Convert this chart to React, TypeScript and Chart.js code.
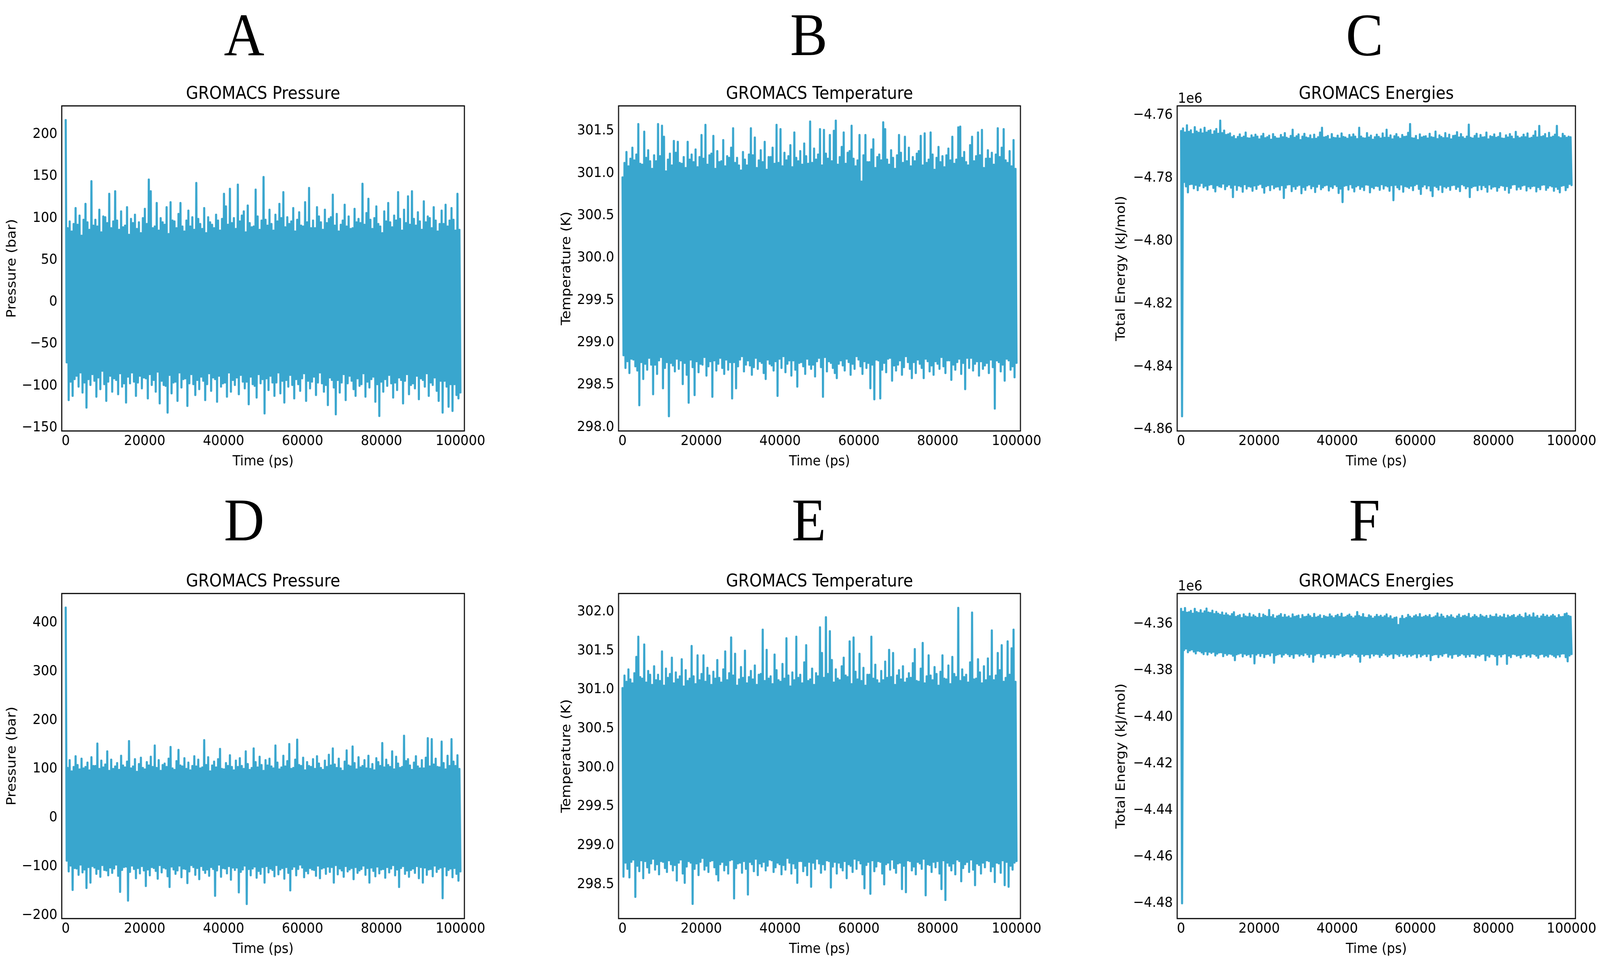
import { useEffect, useLayoutEffect, useRef, useState } from 'react';
import { Chart, registerables } from 'chart.js';

Chart.register(...registerables);

// ---- data ----
// Each trace is stored as the upper and lower excursions of the noisy signal,
// alternating in time (high, low, high, low ...) the way the raw samples zig-zag.

const RUN_LENGTH_PS = 100000;
const timeTicks = [0, 20000, 40000, 60000, 80000, 100000];

// A: pressure, run 1 (bar)
const pressureHighsA = [
  217, 88, 96, 84, 93, 112, 92, 103, 79, 98,
  117, 95, 86, 144, 91, 98, 90, 110, 83, 102,
  101, 94, 129, 88, 96, 132, 97, 86, 108, 89,
  91, 113, 80, 99, 94, 104, 87, 95, 82, 100,
  111, 93, 146, 132, 88, 90, 118, 85, 100, 95,
  92, 113, 81, 119, 97, 96, 88, 105, 118, 90,
  84, 97, 109, 90, 101, 86, 142, 99, 93, 87,
  112, 82, 101, 95, 92, 88, 104, 97, 85, 99,
  129, 114, 92, 135, 94, 100, 87, 140, 96, 103,
  108, 83, 115, 94, 89, 90, 134, 102, 86, 97,
  149, 98, 91, 110, 93, 85, 104, 96, 117, 100,
  131, 89, 101, 93, 96, 112, 84, 98, 107, 91,
  90, 119, 95, 136, 88, 97, 88, 113, 102, 95,
  86, 110, 94, 99, 101, 128, 91, 105, 84, 92,
  97, 116, 90, 102, 87, 88, 111, 95, 99, 94,
  141, 92, 106, 123, 98, 87, 100, 114, 93, 90,
  82, 108, 96, 118, 95, 89, 103, 97, 131, 99,
  85, 110, 94, 126, 92, 132, 99, 91, 107, 96,
  86, 120, 95, 102, 100, 88, 113, 97, 84, 93,
  109, 93, 116, 90, 97, 112, 98, 85, 129, 86,
];
const pressureLowsA = [
  -72, -117, -95, -112, -92, -88, -101, -84, -108, -96,
  -126, -92, -99, -86, -94, -113, -90, -104, -82, -98,
  -118, -95, -88, -107, -91, -93, -110, -85, -101, -97,
  -120, -89, -97, -84, -95, -112, -96, -88, -103, -90,
  -91, -115, -86, -99, -93, -107, -83, -121, -94, -99,
  -100, -132, -87, -109, -96, -95, -118, -84, -102, -92,
  -91, -124, -97, -86, -98, -111, -93, -104, -89, -94,
  -117, -98, -85, -106, -90, -92, -119, -88, -101, -97,
  -96, -113, -84, -107, -93, -99, -90, -110, -87, -95,
  -103, -95, -122, -89, -98, -100, -114, -86, -97, -92,
  -133, -91, -105, -88, -96, -112, -96, -84, -109, -94,
  -120, -93, -101, -87, -99, -115, -92, -98, -106, -91,
  -85, -118, -94, -103, -95, -89, -111, -96, -84, -97,
  -107, -99, -123, -90, -93, -102, -134, -93, -108, -96,
  -86, -117, -97, -88, -94, -104, -112, -91, -100, -98,
  -85, -113, -95, -102, -92, -89, -119, -98, -136, -95,
  -107, -92, -100, -87, -97, -114, -96, -105, -90, -93,
  -121, -94, -86, -110, -99, -97, -103, -88, -116, -91,
  -93, -101, -85, -112, -96, -99, -90, -106, -118, -94,
  -132, -94, -101, -125, -98, -130, -98, -111, -115, -108,
];

// B: temperature, run 1 (K)
const temperatureHighsB = [
  300.95, 301.12, 301.25, 301.08, 301.17, 301.30, 301.15, 301.22, 301.58, 301.11,
  301.10, 301.49, 301.18, 301.27, 301.14, 301.05, 301.21, 301.14, 301.58, 301.20,
  301.56, 301.43, 301.02, 301.16, 301.23, 301.09, 301.38, 301.24, 301.37, 301.12,
  301.11, 301.19, 301.06, 301.37, 301.16, 301.22, 301.13, 301.28, 301.07, 301.19,
  301.45, 301.17, 301.57, 301.10, 301.21, 301.23, 301.44, 301.05, 301.26, 301.13,
  301.14, 301.39, 301.08, 301.20, 301.18, 301.30, 301.53, 301.12, 301.18, 301.09,
  301.03, 301.25, 301.16, 301.09, 301.22, 301.53, 301.21, 301.42, 301.06, 301.15,
  301.27, 301.13, 301.37, 301.04, 301.19, 301.19, 301.30, 301.11, 301.57, 301.12,
  301.52, 301.08, 301.24, 301.15, 301.20, 301.33, 301.07, 301.48, 301.18, 301.14,
  301.26, 301.10, 301.35, 301.20, 301.11, 301.61, 301.12, 301.29, 301.16, 301.22,
  301.52, 301.09, 301.51, 301.23, 301.17, 301.45, 301.14, 301.50, 301.62, 301.10,
  301.19, 301.31, 301.48, 301.11, 301.24, 301.26, 301.56, 301.17, 301.08, 301.15,
  301.45, 300.90, 301.21, 301.45, 301.13, 301.13, 301.28, 301.40, 301.06, 301.19,
  301.22, 301.15, 301.60, 301.52, 301.16, 301.10, 301.27, 301.18, 301.05, 301.21,
  301.45, 301.24, 301.12, 301.43, 301.14, 301.30, 301.08, 301.19, 301.14, 301.23,
  301.26, 301.44, 301.09, 301.47, 301.12, 301.16, 301.48, 301.22, 301.04, 301.18,
  301.31, 301.13, 301.20, 301.07, 301.21, 301.29, 301.15, 301.43, 301.11, 301.16,
  301.54, 301.55, 301.18, 301.25, 301.13, 301.09, 301.33, 301.43, 301.14, 301.20,
  301.48, 301.21, 301.51, 301.06, 301.17, 301.27, 301.17, 301.24, 301.10, 301.22,
  301.53, 301.19, 301.30, 301.52, 301.15, 301.12, 301.26, 301.08, 301.39, 301.05,
];
const temperatureLowsB = [
  298.85, 298.70, 298.78, 298.64, 298.81, 298.80, 298.72, 298.67, 298.26, 298.77,
  298.57, 298.75, 298.68, 298.82, 298.74, 298.39, 298.74, 298.63, 298.79, 298.83,
  298.46, 298.70, 298.77, 298.13, 298.76, 298.73, 298.66, 298.81, 298.69, 298.79,
  298.51, 298.76, 298.62, 298.29, 298.80, 298.71, 298.38, 298.78, 298.65, 298.75,
  298.74, 298.83, 298.61, 298.72, 298.78, 298.36, 298.79, 298.67, 298.75, 298.82,
  298.70, 298.63, 298.80, 298.68, 298.77, 298.34, 298.77, 298.46, 298.72, 298.80,
  298.84, 298.66, 298.74, 298.79, 298.73, 298.62, 298.71, 298.82, 298.69, 298.78,
  298.76, 298.64, 298.57, 298.80, 298.75, 298.73, 298.67, 298.78, 298.37, 298.81,
  298.70, 298.84, 298.65, 298.75, 298.79, 298.61, 298.79, 298.68, 298.48, 298.76,
  298.77, 298.72, 298.63, 298.81, 298.74, 298.69, 298.74, 298.60, 298.78, 298.82,
  298.71, 298.36, 298.83, 298.66, 298.78, 298.76, 298.70, 298.64, 298.58, 298.75,
  298.79, 298.73, 298.67, 298.81, 298.77, 298.62, 298.75, 298.69, 298.84, 298.80,
  298.72, 298.63, 298.78, 298.70, 298.76, 298.46, 298.74, 298.33, 298.80, 298.79,
  298.34, 298.68, 298.76, 298.65, 298.81, 298.82, 298.55, 298.73, 298.67, 298.74,
  298.79, 298.62, 298.71, 298.84, 298.77, 298.69, 298.58, 298.77, 298.64, 298.80,
  298.75, 298.70, 298.58, 298.81, 298.78, 298.66, 298.73, 298.62, 298.78, 298.75,
  298.69, 298.83, 298.72, 298.64, 298.79, 298.79, 298.56, 298.74, 298.68, 298.77,
  298.81, 298.63, 298.76, 298.45, 298.82, 298.70, 298.82, 298.67, 298.75, 298.78,
  298.61, 298.78, 298.69, 298.73, 298.76, 298.64, 298.80, 298.71, 298.22, 298.79,
  298.77, 298.66, 298.74, 298.55, 298.81, 298.79, 298.68, 298.72, 298.59, 298.76,
];

// C: total energy, run 1 (units of 1e6 kJ/mol)
const energyHighsC = [
  -4.7650, -4.7642, -4.7655, -4.7632, -4.7653, -4.7648, -4.7660, -4.7638, -4.7652, -4.7656,
  -4.7645, -4.7658, -4.7640, -4.7655, -4.7650, -4.7648, -4.7662, -4.7651, -4.7644, -4.7659,
  -4.7617, -4.7657, -4.7649, -4.7663, -4.7661, -4.7658, -4.7670, -4.7666, -4.7676, -4.7669,
  -4.7661, -4.7672, -4.7668, -4.7655, -4.7673, -4.7674, -4.7664, -4.7671, -4.7662, -4.7668,
  -4.7677, -4.7667, -4.7659, -4.7673, -4.7670, -4.7665, -4.7678, -4.7660, -4.7669, -4.7674,
  -4.7674, -4.7663, -4.7670, -4.7657, -4.7672, -4.7675, -4.7666, -4.7646, -4.7672, -4.7667,
  -4.7661, -4.7679, -4.7668, -4.7659, -4.7671, -4.7673, -4.7664, -4.7676, -4.7662, -4.7675,
  -4.7670, -4.7655, -4.7640, -4.7671, -4.7669, -4.7666, -4.7677, -4.7660, -4.7672, -4.7673,
  -4.7665, -4.7674, -4.7658, -4.7669, -4.7671, -4.7675, -4.7663, -4.7670, -4.7661, -4.7668,
  -4.7676, -4.7640, -4.7668, -4.7673, -4.7674, -4.7657, -4.7671, -4.7665, -4.7678, -4.7670,
  -4.7662, -4.7669, -4.7674, -4.7658, -4.7672, -4.7646, -4.7672, -4.7664, -4.7677, -4.7667,
  -4.7660, -4.7670, -4.7675, -4.7663, -4.7669, -4.7668, -4.7656, -4.7628, -4.7673, -4.7674,
  -4.7666, -4.7679, -4.7661, -4.7671, -4.7668, -4.7667, -4.7674, -4.7659, -4.7670, -4.7672,
  -4.7652, -4.7676, -4.7664, -4.7669, -4.7673, -4.7657, -4.7673, -4.7662, -4.7677, -4.7666,
  -4.7665, -4.7654, -4.7671, -4.7660, -4.7670, -4.7675, -4.7668, -4.7630, -4.7672, -4.7674,
  -4.7666, -4.7659, -4.7674, -4.7663, -4.7671, -4.7670, -4.7655, -4.7677, -4.7667, -4.7669,
  -4.7661, -4.7672, -4.7669, -4.7657, -4.7674, -4.7675, -4.7664, -4.7671, -4.7660, -4.7668,
  -4.7676, -4.7653, -4.7668, -4.7673, -4.7670, -4.7662, -4.7670, -4.7658, -4.7674, -4.7672,
  -4.7665, -4.7651, -4.7671, -4.7634, -4.7669, -4.7667, -4.7660, -4.7673, -4.7656, -4.7671,
  -4.7668, -4.7662, -4.7634, -4.7670, -4.7673, -4.7659, -4.7666, -4.7672, -4.7668, -4.7670,
];
const energyLowsC = [
  -4.8558, -4.7812, -4.7826, -4.7845, -4.7819, -4.7818, -4.7832, -4.7821, -4.7838, -4.7824,
  -4.7815, -4.7829, -4.7824, -4.7836, -4.7821, -4.7819, -4.7831, -4.7842, -4.7822, -4.7826,
  -4.7828, -4.7817, -4.7835, -4.7825, -4.7820, -4.7830, -4.7860, -4.7821, -4.7837, -4.7823,
  -4.7826, -4.7843, -4.7819, -4.7833, -4.7825, -4.7827, -4.7840, -4.7823, -4.7834, -4.7821,
  -4.7818, -4.7829, -4.7846, -4.7825, -4.7822, -4.7838, -4.7820, -4.7832, -4.7827, -4.7826,
  -4.7836, -4.7822, -4.7863, -4.7830, -4.7820, -4.7819, -4.7841, -4.7826, -4.7834, -4.7824,
  -4.7821, -4.7848, -4.7828, -4.7837, -4.7823, -4.7820, -4.7832, -4.7825, -4.7844, -4.7827,
  -4.7818, -4.7835, -4.7829, -4.7823, -4.7821, -4.7839, -4.7826, -4.7831, -4.7820, -4.7825,
  -4.7847, -4.7833, -4.7876, -4.7824, -4.7822, -4.7836, -4.7819, -4.7830, -4.7842, -4.7826,
  -4.7822, -4.7834, -4.7827, -4.7838, -4.7820, -4.7821, -4.7845, -4.7828, -4.7832, -4.7824,
  -4.7825, -4.7837, -4.7819, -4.7833, -4.7823, -4.7826, -4.7840, -4.7822, -4.7870, -4.7821,
  -4.7829, -4.7835, -4.7820, -4.7843, -4.7825, -4.7827, -4.7831, -4.7824, -4.7838, -4.7822,
  -4.7818, -4.7834, -4.7850, -4.7826, -4.7820, -4.7832, -4.7823, -4.7839, -4.7857, -4.7824,
  -4.7828, -4.7836, -4.7821, -4.7844, -4.7826, -4.7830, -4.7825, -4.7837, -4.7822, -4.7821,
  -4.7834, -4.7827, -4.7841, -4.7819, -4.7823, -4.7832, -4.7826, -4.7860, -4.7829, -4.7825,
  -4.7824, -4.7838, -4.7821, -4.7835, -4.7822, -4.7828, -4.7843, -4.7820, -4.7833, -4.7827,
  -4.7826, -4.7840, -4.7829, -4.7822, -4.7824, -4.7837, -4.7825, -4.7846, -4.7831, -4.7820,
  -4.7819, -4.7836, -4.7827, -4.7834, -4.7823, -4.7821, -4.7839, -4.7826, -4.7832, -4.7825,
  -4.7824, -4.7842, -4.7828, -4.7835, -4.7821, -4.7820, -4.7837, -4.7830, -4.7823, -4.7826,
  -4.7840, -4.7827, -4.7834, -4.7845, -4.7824, -4.7822, -4.7838, -4.7829, -4.7818, -4.7822,
];

// D: pressure, run 2 (bar)
const pressureHighsD = [
  431, 102, 118, 95, 104, 126, 108, 99, 121, 101,
  104, 113, 97, 124, 106, 106, 152, 100, 117, 103,
  109, 136, 96, 119, 100, 105, 112, 98, 127, 107,
  103, 115, 157, 101, 105, 120, 94, 110, 123, 102,
  99, 114, 107, 125, 104, 148, 102, 118, 96, 108,
  111, 104, 121, 145, 101, 98, 116, 139, 107, 105,
  122, 100, 113, 97, 106, 126, 105, 119, 101, 103,
  159, 108, 124, 95, 107, 115, 103, 120, 141, 100,
  99, 112, 106, 128, 104, 97, 117, 104, 122, 106,
  100, 136, 110, 98, 102, 142, 114, 103, 125, 108,
  96, 118, 107, 121, 105, 101, 148, 113, 99, 103,
  127, 105, 116, 151, 100, 102, 119, 160, 108, 106,
  123, 97, 114, 106, 104, 120, 100, 126, 111, 102,
  98, 117, 104, 129, 107, 142, 109, 102, 121, 101,
  96, 115, 138, 107, 105, 146, 112, 99, 124, 103,
  106, 118, 101, 127, 100, 110, 97, 122, 114, 106,
  153, 103, 119, 108, 104, 136, 99, 125, 111, 102,
  104, 168, 116, 120, 107, 98, 113, 126, 105, 101,
  118, 101, 123, 163, 105, 161, 109, 121, 104, 103,
  156, 112, 99, 127, 106, 161, 115, 106, 128, 100,
];
const pressureLowsD = [
  -88, -110, -98, -148, -103, -104, -117, -96, -112, -106,
  -144, -101, -133, -99, -102, -115, -105, -121, -97, -107,
  -108, -118, -102, -113, -104, -96, -119, -152, -107, -101,
  -100, -170, -111, -98, -105, -124, -103, -114, -99, -108,
  -140, -106, -118, -101, -103, -109, -125, -97, -112, -102,
  -104, -120, -142, -100, -106, -115, -108, -98, -122, -104,
  -105, -134, -110, -97, -101, -117, -103, -126, -99, -107,
  -113, -106, -119, -101, -105, -160, -108, -96, -121, -103,
  -104, -114, -99, -127, -102, -107, -102, -153, -111, -106,
  -98, -177, -105, -118, -104, -100, -123, -109, -115, -101,
  -133, -99, -112, -104, -107, -120, -97, -116, -106, -103,
  -125, -101, -113, -149, -105, -100, -118, -105, -96, -102,
  -122, -109, -114, -103, -106, -107, -119, -98, -124, -104,
  -102, -115, -100, -111, -101, -133, -97, -116, -104, -108,
  -121, -99, -110, -106, -103, -126, -101, -113, -108, -105,
  -98, -117, -103, -133, -102, -109, -120, -100, -114, -106,
  -105, -123, -101, -112, -104, -97, -118, -106, -142, -103,
  -99, -115, -108, -121, -107, -104, -113, -99, -124, -101,
  -133, -102, -117, -106, -105, -120, -98, -111, -105, -102,
  -165, -100, -118, -107, -104, -122, -103, -115, -129, -110,
];

// E: temperature, run 2 (K)
const temperatureHighsE = [
  301.02, 301.18, 301.10, 301.26, 301.13, 301.08, 301.21, 301.42, 301.68, 301.16,
  301.14, 301.58, 301.09, 301.24, 301.19, 301.06, 301.30, 301.12, 301.19, 301.11,
  301.49, 301.05, 301.27, 301.15, 301.20, 301.41, 301.08, 301.22, 301.13, 301.17,
  301.39, 301.04, 301.25, 301.11, 301.14, 301.56, 301.17, 301.07, 301.44, 301.12,
  301.20, 301.44, 301.10, 301.28, 301.18, 301.06, 301.23, 301.14, 301.38, 301.15,
  301.09, 301.26, 301.49, 301.12, 301.21, 301.67, 301.18, 301.46, 301.05, 301.13,
  301.29, 301.15, 301.50, 301.08, 301.16, 301.24, 301.13, 301.31, 301.06, 301.19,
  301.20, 301.77, 301.11, 301.51, 301.14, 301.17, 301.07, 301.45, 301.25, 301.12,
  301.10, 301.33, 301.14, 301.66, 301.18, 301.04, 301.22, 301.12, 301.68, 301.15,
  301.19, 301.08, 301.35, 301.57, 301.11, 301.13, 301.27, 301.06, 301.21, 301.17,
  301.80, 301.47, 301.15, 301.93, 301.20, 301.75, 301.38, 301.09, 301.26, 301.14,
  301.12, 301.30, 301.41, 301.18, 301.16, 301.62, 301.07, 301.67, 301.23, 301.13,
  301.46, 301.11, 301.28, 301.05, 301.19, 301.19, 301.68, 301.14, 301.32, 301.12,
  301.08, 301.24, 301.12, 301.36, 301.15, 301.51, 301.16, 301.47, 301.06, 301.18,
  301.25, 301.13, 301.30, 301.09, 301.14, 301.21, 301.15, 301.34, 301.52, 301.11,
  301.10, 301.27, 301.60, 301.08, 301.17, 301.44, 301.18, 301.12, 301.29, 301.20,
  301.05, 301.23, 301.44, 301.14, 301.13, 301.31, 301.07, 301.42, 301.20, 301.16,
  302.05, 301.11, 301.26, 301.16, 301.19, 301.09, 301.35, 301.99, 301.13, 301.14,
  301.39, 301.22, 301.08, 301.30, 301.12, 301.40, 301.17, 301.76, 301.12, 301.18,
  301.47, 301.25, 301.57, 301.10, 301.15, 301.62, 301.19, 301.53, 301.77, 301.10,
];
const temperatureLowsE = [
  298.60, 298.78, 298.70, 298.59, 298.79, 298.82, 298.34, 298.74, 298.67, 298.81,
  298.58, 298.80, 298.72, 298.65, 298.77, 298.83, 298.69, 298.76, 298.63, 298.80,
  298.79, 298.71, 298.66, 298.81, 298.76, 298.68, 298.75, 298.55, 298.78, 298.82,
  298.64, 298.52, 298.73, 298.80, 298.78, 298.25, 298.70, 298.77, 298.62, 298.79,
  298.84, 298.69, 298.74, 298.66, 298.80, 298.81, 298.72, 298.63, 298.55, 298.76,
  298.79, 298.68, 298.75, 298.64, 298.81, 298.82, 298.32, 298.71, 298.77, 298.78,
  298.65, 298.80, 298.70, 298.37, 298.79, 298.76, 298.67, 298.83, 298.62, 298.77,
  298.73, 298.79, 298.68, 298.74, 298.82, 298.81, 298.66, 298.72, 298.78, 298.76,
  298.63, 298.75, 298.69, 298.84, 298.78, 298.64, 298.77, 298.71, 298.52, 298.80,
  298.80, 298.67, 298.74, 298.62, 298.79, 298.47, 298.78, 298.70, 298.83, 298.77,
  298.65, 298.76, 298.69, 298.81, 298.80, 298.46, 298.73, 298.79, 298.64, 298.78,
  298.72, 298.68, 298.80, 298.58, 298.76, 298.74, 298.66, 298.83, 298.70, 298.81,
  298.77, 298.63, 298.45, 298.75, 298.79, 298.38, 298.81, 298.67, 298.73, 298.80,
  298.79, 298.64, 298.50, 298.76, 298.78, 298.69, 298.82, 298.71, 298.65, 298.77,
  298.78, 298.44, 298.74, 298.40, 298.81, 298.80, 298.68, 298.73, 298.63, 298.79,
  298.77, 298.70, 298.83, 298.36, 298.76, 298.75, 298.66, 298.79, 298.72, 298.80,
  298.64, 298.44, 298.81, 298.30, 298.78, 298.74, 298.68, 298.77, 298.63, 298.82,
  298.80, 298.54, 298.71, 298.76, 298.79, 298.66, 298.82, 298.69, 298.49, 298.77,
  298.75, 298.64, 298.78, 298.72, 298.81, 298.80, 298.67, 298.73, 298.53, 298.78,
  298.77, 298.65, 298.81, 298.49, 298.79, 298.47, 298.74, 298.69, 298.78, 298.80,
];

// F: total energy, run 2 (units of 1e6 kJ/mol)
const energyHighsF = [
  -4.3535, -4.3548, -4.3532, -4.3552, -4.3550, -4.3544, -4.3556, -4.3535, -4.3549, -4.3553,
  -4.3541, -4.3555, -4.3546, -4.3534, -4.3551, -4.3553, -4.3543, -4.3558, -4.3548, -4.3556,
  -4.3561, -4.3551, -4.3564, -4.3555, -4.3563, -4.3567, -4.3558, -4.3550, -4.3570, -4.3566,
  -4.3562, -4.3575, -4.3559, -4.3568, -4.3571, -4.3556, -4.3572, -4.3563, -4.3569, -4.3574,
  -4.3557, -4.3574, -4.3560, -4.3566, -4.3570, -4.3540, -4.3571, -4.3562, -4.3577, -4.3568,
  -4.3565, -4.3558, -4.3573, -4.3561, -4.3572, -4.3568, -4.3576, -4.3559, -4.3570, -4.3567,
  -4.3564, -4.3579, -4.3562, -4.3571, -4.3569, -4.3560, -4.3567, -4.3574, -4.3557, -4.3573,
  -4.3569, -4.3563, -4.3578, -4.3566, -4.3570, -4.3572, -4.3559, -4.3568, -4.3575, -4.3566,
  -4.3561, -4.3570, -4.3556, -4.3573, -4.3571, -4.3565, -4.3560, -4.3569, -4.3576, -4.3568,
  -4.3549, -4.3566, -4.3571, -4.3558, -4.3573, -4.3574, -4.3563, -4.3568, -4.3577, -4.3570,
  -4.3561, -4.3570, -4.3565, -4.3573, -4.3567, -4.3559, -4.3575, -4.3567, -4.3580, -4.3574,
  -4.3572, -4.3605, -4.3578, -4.3566, -4.3579, -4.3574, -4.3561, -4.3569, -4.3576, -4.3568,
  -4.3563, -4.3571, -4.3558, -4.3573, -4.3570, -4.3565, -4.3570, -4.3562, -4.3575, -4.3572,
  -4.3567, -4.3555, -4.3572, -4.3560, -4.3569, -4.3577, -4.3566, -4.3571, -4.3563, -4.3573,
  -4.3578, -4.3568, -4.3560, -4.3574, -4.3567, -4.3565, -4.3570, -4.3557, -4.3576, -4.3571,
  -4.3562, -4.3569, -4.3575, -4.3561, -4.3568, -4.3572, -4.3566, -4.3578, -4.3564, -4.3570,
  -4.3570, -4.3559, -4.3573, -4.3567, -4.3572, -4.3560, -4.3576, -4.3564, -4.3571, -4.3566,
  -4.3562, -4.3574, -4.3568, -4.3561, -4.3570, -4.3575, -4.3555, -4.3569, -4.3563, -4.3572,
  -4.3555, -4.3572, -4.3566, -4.3577, -4.3568, -4.3560, -4.3570, -4.3564, -4.3573, -4.3567,
  -4.3561, -4.3568, -4.3575, -4.3562, -4.3571, -4.3570, -4.3558, -4.3555, -4.3566, -4.3569,
];
const energyLowsF = [
  -4.4800, -4.3712, -4.3705, -4.3721, -4.3713, -4.3709, -4.3718, -4.3726, -4.3714, -4.3716,
  -4.3722, -4.3729, -4.3717, -4.3731, -4.3719, -4.3724, -4.3719, -4.3735, -4.3727, -4.3722,
  -4.3721, -4.3738, -4.3725, -4.3732, -4.3726, -4.3728, -4.3736, -4.3755, -4.3730, -4.3727,
  -4.3724, -4.3739, -4.3727, -4.3733, -4.3729, -4.3741, -4.3726, -4.3769, -4.3731, -4.3725,
  -4.3737, -4.3725, -4.3742, -4.3729, -4.3728, -4.3735, -4.3722, -4.3766, -4.3733, -4.3730,
  -4.3727, -4.3740, -4.3731, -4.3724, -4.3729, -4.3738, -4.3730, -4.3745, -4.3726, -4.3727,
  -4.3736, -4.3729, -4.3734, -4.3723, -4.3730, -4.3741, -4.3728, -4.3762, -4.3732, -4.3726,
  -4.3725, -4.3739, -4.3730, -4.3744, -4.3728, -4.3726, -4.3737, -4.3729, -4.3743, -4.3731,
  -4.3731, -4.3724, -4.3738, -4.3733, -4.3727, -4.3727, -4.3740, -4.3732, -4.3725, -4.3729,
  -4.3739, -4.3762, -4.3728, -4.3736, -4.3730, -4.3730, -4.3744, -4.3726, -4.3735, -4.3728,
  -4.3729, -4.3741, -4.3733, -4.3724, -4.3731, -4.3738, -4.3731, -4.3727, -4.3746, -4.3726,
  -4.3730, -4.3737, -4.3725, -4.3734, -4.3729, -4.3740, -4.3728, -4.3736, -4.3731, -4.3727,
  -4.3743, -4.3726, -4.3739, -4.3732, -4.3728, -4.3738, -4.3727, -4.3755, -4.3733, -4.3730,
  -4.3729, -4.3742, -4.3730, -4.3736, -4.3726, -4.3724, -4.3740, -4.3731, -4.3745, -4.3729,
  -4.3728, -4.3737, -4.3733, -4.3726, -4.3731, -4.3741, -4.3730, -4.3738, -4.3727, -4.3728,
  -4.3743, -4.3732, -4.3736, -4.3729, -4.3727, -4.3755, -4.3734, -4.3740, -4.3728, -4.3730,
  -4.3737, -4.3774, -4.3731, -4.3739, -4.3729, -4.3726, -4.3771, -4.3735, -4.3742, -4.3728,
  -4.3729, -4.3736, -4.3733, -4.3744, -4.3730, -4.3727, -4.3738, -4.3732, -4.3741, -4.3726,
  -4.3729, -4.3736, -4.3745, -4.3730, -4.3728, -4.3739, -4.3734, -4.3740, -4.3728, -4.3731,
  -4.3737, -4.3743, -4.3731, -4.3739, -4.3727, -4.3726, -4.3742, -4.3760, -4.3735, -4.3729,
];

const pressureTicksA = [-150, -100, -50, 0, 50, 100, 150, 200];
const temperatureTicksB = [298.0, 298.5, 299.0, 299.5, 300.0, 300.5, 301.0, 301.5];
const energyTicksC = [-4.86, -4.84, -4.82, -4.80, -4.78, -4.76];
const pressureTicksD = [-200, -100, 0, 100, 200, 300, 400];
const temperatureTicksE = [298.5, 299.0, 299.5, 300.0, 300.5, 301.0, 301.5, 302.0];
const energyTicksF = [-4.48, -4.46, -4.44, -4.42, -4.40, -4.38, -4.36];

// ---- look ----
const FIG_W = 4431;
const FIG_H = 2457;
const LINE_COLOR = '#39a6ce';
const FONT = '"DejaVu Sans", "Noto Sans", sans-serif';

// room around the plot box inside each canvas
const PAD_LEFT = 200;
const PAD_TOP = 100;
const PAD_RIGHT = 110;
const PAD_BOTTOM = 110;
const Y_AXIS_W = 180;
const X_AXIS_H = 70;

interface PanelSpec {
  id: string;
  box: { left: number; top: number; width: number; height: number };
  highs: number[];
  lows: number[];
  yMin: number;
  yMax: number;
  yTicks: number[];
  digits: number;
  title: string;
  yLabel: string;
  yLabelGap: number;
  offsetText?: string;
}

const fmt = (v: number, digits: number) => v.toFixed(digits).replace('-', '\u2212');

const toPoints = (highs: number[], lows: number[]) => {
  const step = RUN_LENGTH_PS / (highs.length + lows.length - 1);
  const pts: { x: number; y: number }[] = [];
  highs.forEach((h, i) => {
    pts.push({ x: 2 * i * step, y: h });
    pts.push({ x: (2 * i + 1) * step, y: lows[i] });
  });
  return pts;
};

// frame, title, axis labels and the offset text, placed like matplotlib does
const panelDecor = {
  id: 'panelDecor',
  afterDraw(chart: any, _args: any, opts: any) {
    const { ctx, chartArea } = chart;
    const { left, right, top, bottom } = chartArea;
    const cx = (left + right) / 2;
    ctx.save();
    ctx.strokeStyle = '#000';
    ctx.lineWidth = 2.9;
    ctx.strokeRect(left, top, right - left, bottom - top);

    ctx.fillStyle = '#000';
    ctx.textBaseline = 'alphabetic';
    ctx.textAlign = 'center';
    ctx.font = `44px ${FONT}`;
    ctx.fillText(opts.title, cx, top - 18);

    ctx.font = `36px ${FONT}`;
    ctx.fillText('Time (ps)', cx, bottom + 88);

    if (opts.offsetText) {
      ctx.textAlign = 'left';
      ctx.fillText(opts.offsetText, left + 2, top - 8);
    }

    ctx.translate(left - opts.yLabelGap, (top + bottom) / 2);
    ctx.rotate(-Math.PI / 2);
    ctx.textAlign = 'center';
    ctx.fillText(opts.yLabel, 0, 0);
    ctx.restore();
  },
};

const TracePanel = ({ spec }: { spec: PanelSpec }) => {
  const canvasRef = useRef<HTMLCanvasElement>(null);
  const chartRef = useRef<Chart | null>(null);

  const w = spec.box.width + PAD_LEFT + PAD_RIGHT;
  const h = spec.box.height + PAD_TOP + PAD_BOTTOM;

  useEffect(() => {
    if (!canvasRef.current) return;
    if (chartRef.current) chartRef.current.destroy();

    const tickFont = { family: FONT, size: 36 };

    chartRef.current = new Chart(canvasRef.current, {
      type: 'line',
      data: {
        datasets: [{
          data: toPoints(spec.highs, spec.lows),
          borderColor: LINE_COLOR,
          borderWidth: 5.8,
          borderJoinStyle: 'round',
          borderCapStyle: 'round',
          pointRadius: 0,
          tension: 0,
          fill: false,
        }],
      },
      options: {
        responsive: false,
        devicePixelRatio: 1,
        animation: false,
        events: [],
        layout: {
          padding: {
            left: PAD_LEFT - Y_AXIS_W,
            top: PAD_TOP,
            right: PAD_RIGHT,
            bottom: PAD_BOTTOM - X_AXIS_H,
          },
        },
        plugins: {
          legend: { display: false },
          tooltip: { enabled: false },
          panelDecor: {
            title: spec.title,
            yLabel: spec.yLabel,
            yLabelGap: spec.yLabelGap,
            offsetText: spec.offsetText,
          },
        } as any,
        scales: {
          x: {
            type: 'linear',
            min: -1000,
            max: 101000,
            grid: { display: false, drawTicks: false },
            border: { display: false },
            afterBuildTicks: (scale: any) => {
              scale.ticks = timeTicks.map((v) => ({ value: v }));
            },
            afterFit: (scale: any) => {
              scale.height = X_AXIS_H;
            },
            ticks: {
              autoSkip: false,
              maxRotation: 0,
              padding: 5,
              color: '#000',
              font: tickFont,
              callback: (v: any) => String(v),
            },
          },
          y: {
            type: 'linear',
            min: spec.yMin,
            max: spec.yMax,
            grid: { display: false, drawTicks: false },
            border: { display: false },
            afterBuildTicks: (scale: any) => {
              scale.ticks = spec.yTicks.map((v) => ({ value: v }));
            },
            afterFit: (scale: any) => {
              scale.width = Y_AXIS_W;
            },
            ticks: {
              autoSkip: false,
              padding: 12,
              color: '#000',
              font: tickFont,
              callback: (v: any) => fmt(Number(v), spec.digits),
            },
          },
        },
      },
      plugins: [panelDecor],
    } as any);

    return () => {
      if (chartRef.current) {
        chartRef.current.destroy();
        chartRef.current = null;
      }
    };
  }, [spec]);

  return (
    <canvas
      ref={canvasRef}
      width={w}
      height={h}
      style={{
        position: 'absolute',
        left: spec.box.left - PAD_LEFT,
        top: spec.box.top - PAD_TOP,
        width: w,
        height: h,
      }}
    />
  );
};

const panels: PanelSpec[] = [
  {
    id: 'A', box: { left: 171, top: 271, width: 1115, height: 832 },
    highs: pressureHighsA, lows: pressureLowsA, yMin: -154, yMax: 234,
    yTicks: pressureTicksA, digits: 0, title: 'GROMACS Pressure', yLabel: 'Pressure (bar)', yLabelGap: 128,
  },
  {
    id: 'B', box: { left: 1713, top: 271, width: 1113, height: 832 },
    highs: temperatureHighsB, lows: temperatureLowsB, yMin: 297.955, yMax: 301.795,
    yTicks: temperatureTicksB, digits: 1, title: 'GROMACS Temperature', yLabel: 'Temperature (K)', yLabelGap: 134,
  },
  {
    id: 'C', box: { left: 3260, top: 271, width: 1103, height: 832 },
    highs: energyHighsC, lows: energyLowsC, yMin: -4.8605, yMax: -4.7570,
    yTicks: energyTicksC, digits: 2, title: 'GROMACS Energies', yLabel: 'Total Energy (kJ/mol)', yLabelGap: 145,
    offsetText: '1e6',
  },
  {
    id: 'D', box: { left: 171, top: 1519, width: 1115, height: 832 },
    highs: pressureHighsD, lows: pressureLowsD, yMin: -207, yMax: 460,
    yTicks: pressureTicksD, digits: 0, title: 'GROMACS Pressure', yLabel: 'Pressure (bar)', yLabelGap: 128,
  },
  {
    id: 'E', box: { left: 1713, top: 1519, width: 1113, height: 832 },
    highs: temperatureHighsE, lows: temperatureLowsE, yMin: 298.06, yMax: 302.235,
    yTicks: temperatureTicksE, digits: 1, title: 'GROMACS Temperature', yLabel: 'Temperature (K)', yLabelGap: 134,
  },
  {
    id: 'F', box: { left: 3260, top: 1519, width: 1103, height: 832 },
    highs: energyHighsF, lows: energyLowsF, yMin: -4.4866, yMax: -4.3469,
    yTicks: energyTicksF, digits: 2, title: 'GROMACS Energies', yLabel: 'Total Energy (kJ/mol)', yLabelGap: 145,
    offsetText: '1e6',
  },
];

// panel letters: centre x and baseline y
const letters = [
  { text: 'A', x: 676, y: 142 },
  { text: 'B', x: 2240, y: 142 },
  { text: 'C', x: 3779, y: 142 },
  { text: 'D', x: 676, y: 1384 },
  { text: 'E', x: 2240, y: 1384 },
  { text: 'F', x: 3779, y: 1384 },
];

const App = () => {
  // fit the figure to whatever the viewport really is
  const [fit, setFit] = useState({ sx: 1, sy: 1 });

  useLayoutEffect(() => {
    const update = () => {
      const vw = document.documentElement.clientWidth || window.innerWidth;
      const vh = document.documentElement.clientHeight || window.innerHeight;
      setFit({ sx: vw / FIG_W, sy: vh / FIG_H });
    };
    update();
    window.addEventListener('resize', update);
    return () => window.removeEventListener('resize', update);
  }, []);

  return (
    <div
      style={{
        position: 'fixed',
        left: 0,
        top: 0,
        width: FIG_W,
        height: FIG_H,
        overflow: 'hidden',
        background: '#fff',
        transformOrigin: '0 0',
        transform: `scale(${fit.sx}, ${fit.sy})`,
      }}
    >
      {letters.map((l) => (
        <div
          key={l.text}
          style={{
            position: 'absolute',
            left: l.x - 150,
            top: l.y - 130,
            width: 300,
            textAlign: 'center',
            fontFamily: '"Liberation Serif", "Times New Roman", serif',
            fontSize: 155,
            lineHeight: '155px',
            color: '#000',
          }}
        >
          {l.text}
        </div>
      ))}
      {panels.map((p) => (
        <TracePanel key={p.id} spec={p} />
      ))}
    </div>
  );
};

export default App;
